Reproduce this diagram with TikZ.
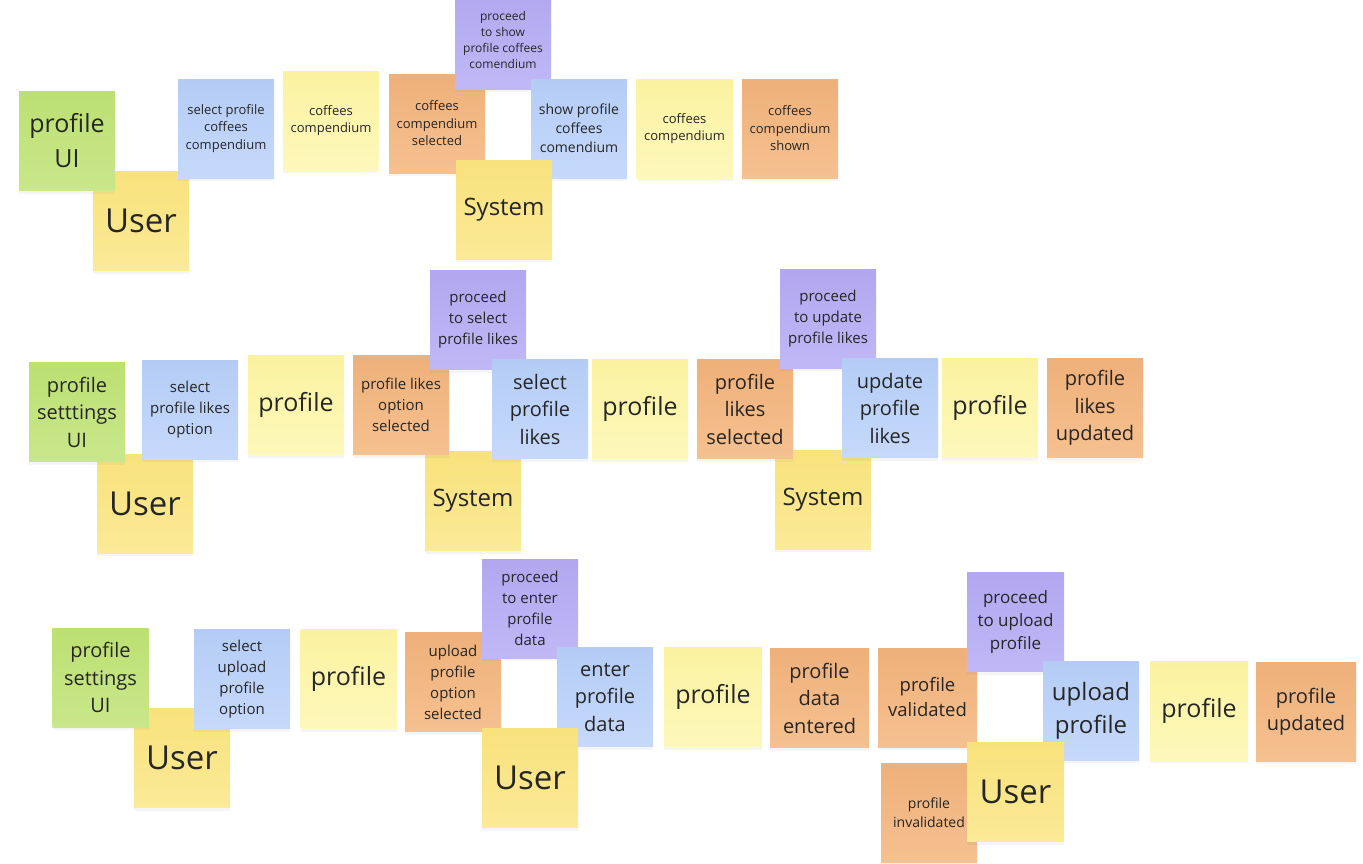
\documentclass[tikz,border=0pt]{standalone}
\usepackage{fontspec}
\setmainfont{Open Sans}
\usetikzlibrary{shadows}

\definecolor{ink}{HTML}{262626}
\definecolor{actorTop}{HTML}{F8E27C}
\definecolor{actorBot}{HTML}{FBEA97}
\definecolor{modelTop}{HTML}{FBF29F}
\definecolor{modelBot}{HTML}{FDF8BB}
\definecolor{eventTop}{HTML}{EFB07A}
\definecolor{eventBot}{HTML}{F5C190}
\definecolor{cmdTop}{HTML}{B4CCF5}
\definecolor{cmdBot}{HTML}{C6D9FB}
\definecolor{policyTop}{HTML}{B2A7F0}
\definecolor{policyBot}{HTML}{C0B8F6}
\definecolor{uiTop}{HTML}{BCE072}
\definecolor{uiBot}{HTML}{C9E78B}

\tikzset{
  note/.style={rectangle, minimum width=96, minimum height=99, inner sep=0pt,
    align=center, text=ink,
    drop shadow={shadow xshift=0pt, shadow yshift=-3pt, opacity=0.08}},
  actor/.style={note, top color=actorTop, bottom color=actorBot},
  readmodel/.style={note, top color=modelTop, bottom color=modelBot},
  event/.style={note, top color=eventTop, bottom color=eventBot},
  command/.style={note, top color=cmdTop, bottom color=cmdBot},
  policy/.style={note, top color=policyTop, bottom color=policyBot},
  ui/.style={note, top color=uiTop, bottom color=uiBot},
  f12/.style={font=\fontsize{12}{16}\selectfont},
  f13/.style={font=\fontsize{13}{17.5}\selectfont},
  f14/.style={font=\fontsize{14}{19}\selectfont},
  f15/.style={font=\fontsize{15}{21}\selectfont},
  f17/.style={font=\fontsize{17}{23}\selectfont},
  f18/.style={font=\fontsize{18.5}{25}\selectfont},
  f20/.style={font=\fontsize{20}{27.5}\selectfont},
  f24/.style={font=\fontsize{24}{33}\selectfont},
  f25/.style={font=\fontsize{25}{35}\selectfont},
  f33/.style={font=\fontsize{33}{44}\selectfont}
}

\begin{document}
\begin{tikzpicture}[x=1pt,y=1pt,yscale=-1]
\useasboundingbox (0,0) rectangle (1363,863);

% Row 1: coffees compendium
\node (userA) [actor, f33] at (141,221) {User};
\node (uiA) [ui, f25] at (67,141) {profile\\UI};
\node (cmdA) [command, f13] at (226,128.5) {select profile\\coffees\\compendium};
\node (modelA) [readmodel, f13] at (331,120.5) {coffees\\compendium};
\node (evtA) [event, f13] at (437,123.5) {coffees\\compendium\\selected};
\node (polA) [policy, f12] at (503,39.5) {proceed\\to show\\profile coffees\\comendium};
\node (cmdB) [command, f14] at (579,128.5) {show profile\\coffees\\comendium};
\node (modelB) [readmodel, f13] at (684.5,128.5) {coffees\\compendium};
\node (evtB) [event, f13] at (790,128.5) {coffees\\compendium\\shown};
\node (sysA) [actor, f24] at (504,209.5) {System};

% Row 2: profile likes
\node (userB) [actor, f33] at (145,503.5) {User};
\node (uiB) [ui, f20] at (77,412) {profile\\setttings\\UI};
\node (cmdC) [command, f15] at (190,409.5) {select\\profile likes\\option};
\node (modelC) [readmodel, f25] at (296,405) {profile};
\node (sysB) [actor, f24] at (473,501) {System};
\node (evtC) [event, f15] at (401,405) {profile likes\\option\\selected};
\node (polB) [policy, f15] at (478,320) {proceed\\to select\\profile likes};
\node (cmdD) [command, f20] at (540,409) {select\\profile\\likes};
\node (modelD) [readmodel, f25] at (640,409) {profile};
\node (sysC) [actor, f24] at (823,499.5) {System};
\node (evtD) [event, f20] at (745,409) {profile\\likes\\selected};
\node (polC) [policy, f15] at (828,318.5) {proceed\\to update\\profile likes};
\node (cmdE) [command, f20] at (890,408) {update\\profile\\likes};
\node (modelE) [readmodel, f25] at (990,408) {profile};
\node (evtE) [event, f20] at (1095,408) {profile\\likes\\updated};

% Row 3: upload profile
\node (userC) [actor, f33] at (182,758) {User};
\node (uiC) [ui, f20] at (100.5,677.5) {profile\\settings\\UI};
\node (cmdF) [command, f15] at (242,679) {select\\upload\\profile\\option};
\node (modelF) [readmodel, f25] at (348.5,679) {profile};
\node (evtF) [event, f15] at (453,682) {upload\\profile\\option\\selected};
\node (polD) [policy, f15] at (530,608.5) {proceed\\to enter\\profile\\data};
\node (cmdG) [command, f20] at (605,697) {enter\\profile\\data};
\node (userD) [actor, f33] at (530,778) {User};
\node (modelG) [readmodel, f25, minimum width=98] at (713,697) {profile};
\node (evtG) [event, f20, minimum width=99] at (819.5,698) {profile\\data\\entered};
\node (evtH) [event, f18, minimum width=99] at (927.5,697.5) {profile\\validated};
\node (evtI) [event, f14] at (929,813) {profile\\invalidated};
\node (polE) [policy, f17, minimum width=97] at (1015.5,622) {proceed\\to upload\\profile};
\node (cmdH) [command, f24] at (1091,710.5) {upload\\profile};
\node (userE) [actor, f33, minimum width=97] at (1015.5,792) {User};
\node (modelH) [readmodel, f25, minimum width=98] at (1199,710.5) {profile};
\node (evtJ) [event, f20, minimum width=100] at (1306,711.5) {profile\\updated};

\end{tikzpicture}
\end{document}
